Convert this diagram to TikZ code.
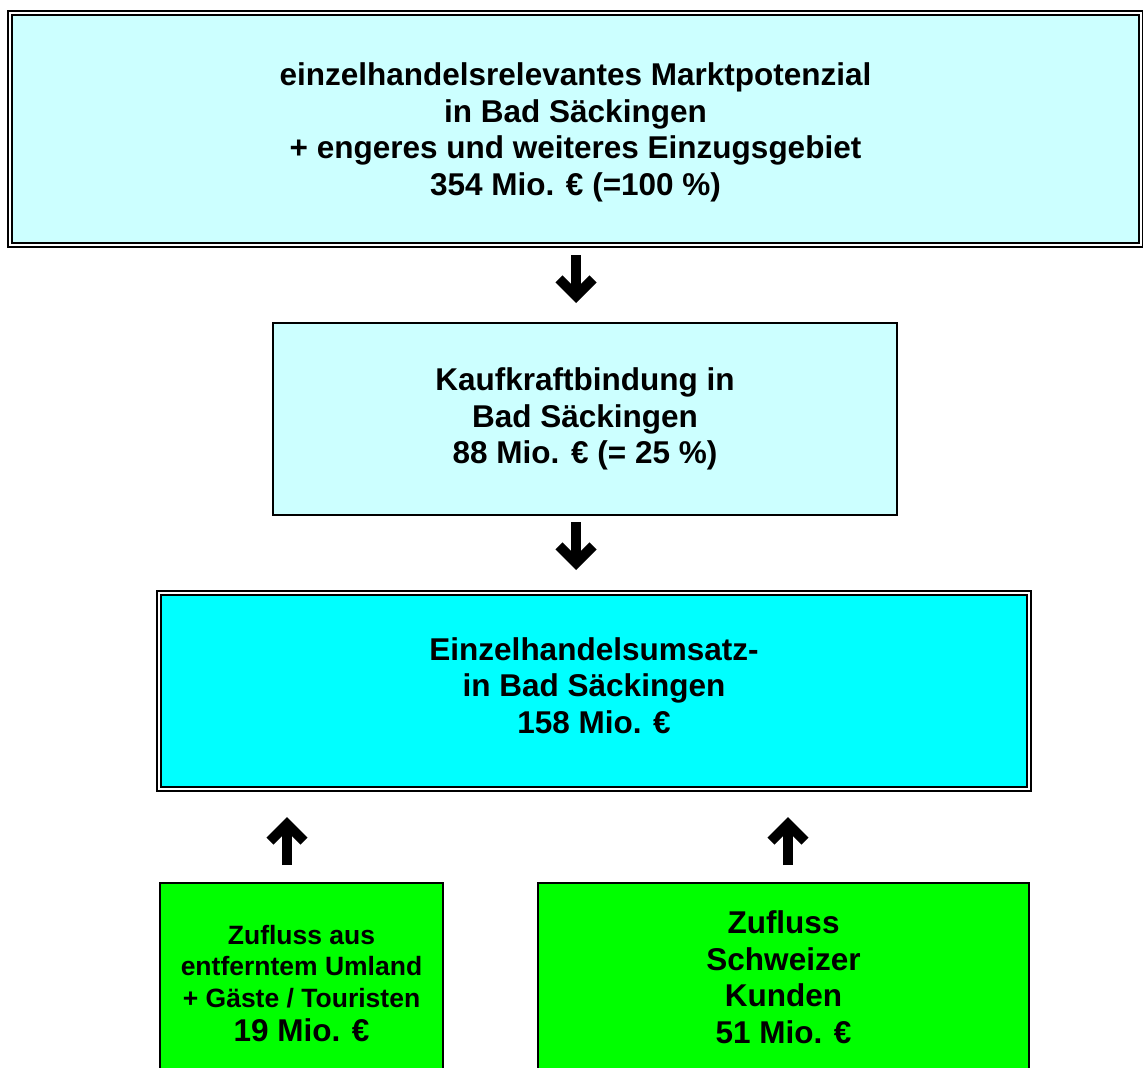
\documentclass[tikz,border=0pt]{standalone}
\usepackage{fontspec}
\setmainfont{Liberation Sans}
\usetikzlibrary{arrows.meta, fit, positioning}

\definecolor{palecyan}{HTML}{CCFFFF}
\definecolor{brightcyan}{HTML}{00FFFF}
\definecolor{brightgreen}{HTML}{00FF00}

\newcommand{\bigtext}{\bfseries\fontsize{31.5}{36.5}\selectfont}
\newcommand{\smalltext}{\bfseries\fontsize{26.5}{31.5}\selectfont}

\begin{document}
\begin{tikzpicture}[x=1pt, y=-1pt,
    box/.style={rectangle, draw=black, line width=2.5pt, align=center, inner sep=0pt, font=\bigtext},
    frame/.style={rectangle, draw=black, line width=1.5pt, inner sep=2.75pt},
    blockarrow/.style={line width=10pt, -{Straight Barb[sharp, length=17pt, width=34pt]}}
]
    \useasboundingbox (0,0) rectangle (1143,1068);

    \node[box, fill=palecyan, minimum width=1127pt, minimum height=228pt,
          text height=150pt, text depth=18pt] (pot) at (575.5,129)
        {einzelhandelsrelevantes Marktpotenzial\\ in Bad Säckingen\\ + engeres und weiteres Einzugsgebiet\\ 354 Mio. € (=100 \%)};
    \node[frame, fit=(pot)] (potframe) {};

    \node[box, fill=palecyan, minimum width=624pt, minimum height=192pt] (bind) at (585,419)
        {Kaufkraftbindung in\\ Bad Säckingen\\ 88 Mio. € (= 25 \%)};

    \node[box, fill=brightcyan, minimum width=866pt, minimum height=192pt,
          text height=100pt, text depth=16pt] (ums) at (594,691)
        {Einzelhandelsumsatz-\\ in Bad Säckingen\\ 158 Mio. €};
    \node[frame, fit=(ums)] (umsframe) {};

    \node[box, fill=brightgreen, minimum width=283pt, minimum height=188pt, font=\smalltext,
          text height=140pt, text depth=12pt] (gast) at (301.5,977)
        {Zufluss aus\\ entferntem Umland\\ + Gäste / Touristen\\[2.5pt] \bigtext 19 Mio. €};
    \node[box, fill=brightgreen, minimum width=491pt, minimum height=188pt] (ch) at (783.5,977)
        {Zufluss\\ Schweizer\\ Kunden\\ 51 Mio. €};

    % arrow ends
    \coordinate (p1) at (576,255);
    \coordinate (p2) at (576,303);
    \coordinate (p3) at (576,522);
    \coordinate (p4) at (576,570);
    \coordinate (p5) at (287,865);
    \coordinate (p6) at (287,817);
    \coordinate (p7) at (788,865);
    \coordinate (p8) at (788,817);

    \draw[blockarrow] (p1) -- (p2);
    \draw[blockarrow] (p3) -- (p4);
    \draw[blockarrow] (p5) -- (p6);
    \draw[blockarrow] (p7) -- (p8);
\end{tikzpicture}
\end{document}
